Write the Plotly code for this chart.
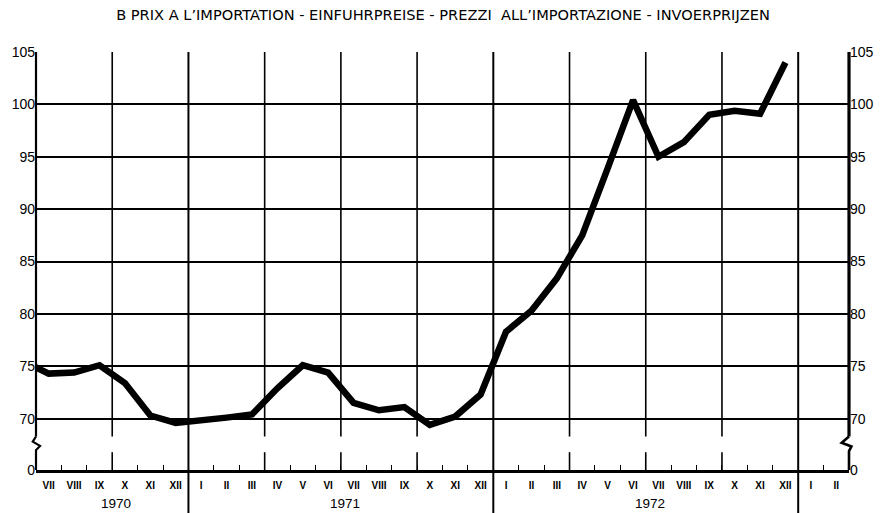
import plotly.graph_objects as go

# ---------------- data ----------------
periods = ["1970-06", "1970-07", "1970-08", "1970-09", "1970-10", "1970-11", "1970-12",
           "1971-01", "1971-02", "1971-03", "1971-04", "1971-05", "1971-06",
           "1971-07", "1971-08", "1971-09", "1971-10", "1971-11", "1971-12",
           "1972-01", "1972-02", "1972-03", "1972-04", "1972-05", "1972-06",
           "1972-07", "1972-08", "1972-09", "1972-10", "1972-11", "1972-12"]
values = [75.5, 74.3, 74.4, 75.1, 73.4, 70.3, 69.6,
          69.8, 70.1, 70.4, 72.9, 75.1, 74.4,
          71.5, 70.8, 71.1, 69.4, 70.2, 72.3,
          78.3, 80.3, 83.4, 87.5, 93.9, 100.4,
          95.0, 96.4, 99.0, 99.4, 99.1, 104.0]

roman = ["I", "II", "III", "IV", "V", "VI", "VII", "VIII", "IX", "X", "XI", "XII"]
axis_months = roman[6:] + roman + roman + roman[:2]   # Jul 1970 .. Feb 1973
years = ["1970", "1971", "1972"]
y_ticks = [70, 75, 80, 85, 90, 95, 100, 105]

title = "B PRIX A L’IMPORTATION - EINFUHRPREISE - PREZZI  ALL’IMPORTAZIONE - INVOERPRIJZEN"

# ---------------- layout helpers ----------------
START_YEAR, START_MONTH = 1970, 7
N_MONTHS = len(axis_months)
ZERO_POS = 65.1          # where the broken axis shows "0"
GAP_TOP, GAP_BOT = 68.3, 66.8
FONT = "Liberation Sans, Arial, sans-serif"


def month_x(p):
    y, m = map(int, p.split("-"))
    return (y - START_YEAR) * 12 + (m - START_MONTH) + 0.5


xs = [month_x(p) for p in periods]
label_x = [k + 0.5 for k in range(N_MONTHS)]

fig = go.Figure()
fig.add_trace(go.Scatter(x=xs, y=values, mode="lines",
                         line=dict(color="black", width=6.5),
                         hoverinfo="skip", showlegend=False))
fig.add_trace(go.Scatter(x=[None], y=[None], yaxis="y2", showlegend=False,
                         hoverinfo="skip"))

tickvals = [ZERO_POS] + y_ticks
ticktext = ["0"] + [str(v) for v in y_ticks]

shapes = []
# year boundaries, full lines running into the label area
year_bounds = [6, 18, 30]
quarter_bounds = [3, 9, 12, 15, 21, 24, 27]
for b in year_bounds:
    shapes.append(dict(type="line", xref="x", yref="paper", x0=b, x1=b,
                       y0=-0.103, y1=1, line=dict(color="black", width=2)))
for b in quarter_bounds:
    shapes.append(dict(type="line", xref="x", yref="y", x0=b, x1=b,
                       y0=GAP_TOP, y1=105, line=dict(color="black", width=1.6)))
    shapes.append(dict(type="line", xref="x", yref="y", x0=b, x1=b,
                       y0=ZERO_POS, y1=GAP_BOT, line=dict(color="black", width=1.6)))

# broken left / right axes
for px, w, zz in [(0, 2.2, [(-0.004, 67.8), (0.005, 67.4), (0.0, 67.0)]),
                  (1, 3.2, [(-0.009, 67.7), (0.003, 67.35), (0.0, 66.9)])]:
    shapes.append(dict(type="line", xref="paper", yref="y", x0=px, x1=px,
                       y0=GAP_TOP, y1=105, line=dict(color="black", width=w)))
    path = f"M {px},{GAP_TOP} " + " ".join(f"L {px + dx},{yy}" for dx, yy in zz) + \
           f" L {px},{ZERO_POS}"
    shapes.append(dict(type="path", xref="paper", yref="y", path=path,
                       line=dict(color="black", width=w if px == 0 else 2.6)))

annotations = []
year_centers = [3, 12, 24]
for yr, xc in zip(years, year_centers):
    annotations.append(dict(x=xc + 0.15, y=-0.079, xref="x", yref="paper", text=yr,
                            showarrow=False, yanchor="middle",
                            font=dict(family=FONT, size=13.5, color="black")))

yaxis_common = dict(range=[ZERO_POS, 105], tickmode="array", tickvals=tickvals,
                    ticktext=ticktext, ticks="", zeroline=False,
                    tickfont=dict(family=FONT, size=14, color="black"),
                    fixedrange=True)

fig.update_layout(
    width=886, height=513,
    margin=dict(l=36, r=31, t=52, b=43),
    paper_bgcolor="white", plot_bgcolor="white",
    title=dict(text=title, x=0.5, xanchor="center", y=1 - 15 / 513,
               yref="container", yanchor="middle",
               font=dict(family="DejaVu Sans, " + FONT, size=14.6, color="black")),
    xaxis=dict(range=[0, N_MONTHS], tickmode="array", tickvals=label_x,
               ticktext=axis_months, ticks="", showgrid=False, zeroline=False,
               showline=True, linecolor="black", linewidth=2.6,
               ticklabelstandoff=4,
               tickfont=dict(family="Liberation Sans Narrow, " + FONT, size=10,
                             color="black", weight="bold"),
               minor=dict(tickmode="linear", tick0=0, dtick=1, ticks="inside",
                          ticklen=5, tickwidth=1.2, tickcolor="black",
                          showgrid=False),
               fixedrange=True),
    yaxis=dict(showgrid=True, gridcolor="black", gridwidth=1.6, side="left",
               **yaxis_common),
    yaxis2=dict(overlaying="y", side="right", showgrid=False, **yaxis_common),
    shapes=shapes,
    annotations=annotations,
    showlegend=False,
)

fig.write_html("out.html", config={"displayModeBar": False},
               post_script="document.body.style.margin='0';"
                           "document.body.style.overflow='hidden';")
